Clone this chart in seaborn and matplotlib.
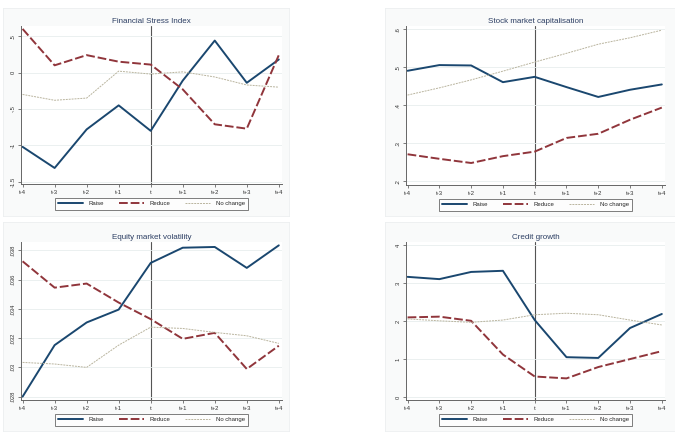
import numpy as np
import pandas as pd
import seaborn as sns
import matplotlib.pyplot as plt

sns.set_style("white")
plt.rcParams['font.family'] = ['Liberation Sans', 'DejaVu Sans']

periods = ['t-4', 't-3', 't-2', 't-1', 't', 't+1', 't+2', 't+3', 't+4']
groups = ['Raise', 'Reduce', 'No change']

fsi_raise = [-1.02, -1.31, -0.78, -0.45, -0.80, -0.11, 0.44, -0.14, 0.18]
fsi_reduce = [0.60, 0.10, 0.24, 0.15, 0.11, -0.23, -0.71, -0.77, 0.24]
fsi_nochange = [-0.30, -0.38, -0.35, 0.02, -0.02, 0.01, -0.06, -0.17, -0.20]

smc_raise = [0.491, 0.506, 0.505, 0.461, 0.475, 0.448, 0.422, 0.441, 0.455]
smc_reduce = [0.271, 0.259, 0.248, 0.266, 0.278, 0.314, 0.325, 0.362, 0.394]
smc_nochange = [0.427, 0.446, 0.467, 0.490, 0.514, 0.537, 0.561, 0.578, 0.598]

vol_raise = [0.0280, 0.03152, 0.03307, 0.03395, 0.03714, 0.03818, 0.03823, 0.0368, 0.03834]
vol_reduce = [0.03725, 0.03545, 0.03573, 0.03443, 0.0333, 0.03195, 0.03236, 0.02989, 0.03148]
vol_nochange = [0.03034, 0.03023, 0.0300, 0.03152, 0.03275, 0.03266, 0.03239, 0.03216, 0.03164]

cg_raise = [3.17, 3.11, 3.30, 3.33, 2.03, 1.05, 1.03, 1.82, 2.19]
cg_reduce = [2.10, 2.12, 2.01, 1.12, 0.54, 0.49, 0.79, 1.00, 1.21]
cg_nochange = [2.06, 2.01, 1.97, 2.03, 2.17, 2.21, 2.17, 2.03, 1.90]

fsi_ticks = [-1.5, -1, -0.5, 0, 0.5]
fsi_labels = ['-1.5', '-1', '-.5', '0', '.5']
smc_ticks = [0.2, 0.3, 0.4, 0.5, 0.6]
smc_labels = ['.2', '.3', '.4', '.5', '.6']
vol_ticks = [0.028, 0.030, 0.032, 0.034, 0.036, 0.038]
vol_labels = ['.028', '.03', '.032', '.034', '.036', '.038']
cg_ticks = [0, 1, 2, 3, 4]
cg_labels = ['0', '1', '2', '3', '4']

W, H = 675, 433
fig = plt.figure(figsize=(W / 100, H / 100), dpi=100)
fig.patch.set_facecolor('white')

colors = {'Raise': '#1a476f', 'Reduce': '#90353b', 'No change': '#b9b49e'}
widths = {'Raise': 1.4, 'Reduce': 1.4, 'No change': 0.7}
dashes = {'Raise': '-', 'Reduce': (0, (4.5, 1.5)), 'No change': (0, (2, 1))}


def px_axes(l, t, r, b):
    return fig.add_axes([l / W, 1 - b / H, (r - l) / W, (b - t) / H])


def panel(box, axbox, title, series, ticks, labels, ylim):
    # panel background
    bl, bt, br, bb = box
    bg = fig.add_axes([bl / W, 1 - bb / H, (br - bl) / W, (bb - bt) / H])
    bg.set_facecolor('#f9fafa')
    for s in bg.spines.values():
        s.set_color('#eceff0')
        s.set_linewidth(0.6)
    bg.set_xticks([])
    bg.set_yticks([])

    ax = px_axes(*axbox)
    ax.set_facecolor('white')
    df = pd.DataFrame({'x': np.tile(np.arange(len(periods)), 3),
                       'y': np.concatenate(series),
                       'g': np.repeat(groups, len(periods))})
    for g in groups:
        d = df[df.g == g]
        sns.lineplot(data=d, x='x', y='y', ax=ax, color=colors[g],
                     linewidth=widths[g], linestyle=dashes[g], label=g)
    ax.axvline(4, color='#555555', linewidth=0.8, zorder=0)
    ax.set_xlim(-0.05, 8.1)
    ax.set_ylim(*ylim)
    ax.set_xticks(range(len(periods)))
    ax.set_xticklabels(periods)
    ax.set_yticks(ticks)
    ax.set_yticklabels(labels, rotation=90, va='center')
    ax.yaxis.grid(True, color='#e8eeee', linewidth=0.6)
    ax.set_axisbelow(True)
    ax.tick_params(axis='both', labelsize=4.2, length=2.5, width=0.6,
                   color='#666666', pad=1.5, labelcolor='#333333')
    ax.tick_params(axis='both', which='both', direction='out')
    ax.tick_params(left=True, bottom=True)
    for s in ['top', 'right']:
        ax.spines[s].set_visible(False)
    for s in ['left', 'bottom']:
        ax.spines[s].set_color('#666666')
        ax.spines[s].set_linewidth(0.7)
    ax.set_xlabel('')
    ax.set_ylabel('')
    ax.set_title(title, fontsize=5.8, color='#2c3e63', pad=2.5)
    leg = ax.legend(loc='center', bbox_to_anchor=(0.5, -0.125), ncol=3,
                    fontsize=4.3, frameon=True, fancybox=False,
                    handlelength=4.2, columnspacing=2.4, borderpad=0.55,
                    handletextpad=1.0)
    leg.get_frame().set_edgecolor('#444444')
    leg.get_frame().set_linewidth(0.6)
    return ax


panel((3, 8, 289, 216), (21, 26, 282, 184), 'Financial Stress Index',
      [fsi_raise, fsi_reduce, fsi_nochange], fsi_ticks, fsi_labels, (-1.53, 0.64))
panel((385, 8, 675, 216), (406, 26, 665, 185), 'Stock market capitalisation',
      [smc_raise, smc_reduce, smc_nochange], smc_ticks, smc_labels, (0.19, 0.609))
panel((3, 222, 289, 431), (21, 242, 282, 400), 'Equity market volatility',
      [vol_raise, vol_reduce, vol_nochange], vol_ticks, vol_labels, (0.02777, 0.03857))
panel((385, 222, 675, 431), (406, 242, 665, 400), 'Credit growth',
      [cg_raise, cg_reduce, cg_nochange], cg_ticks, cg_labels, (-0.08, 4.09))

fig.savefig('out.png', dpi=100)
